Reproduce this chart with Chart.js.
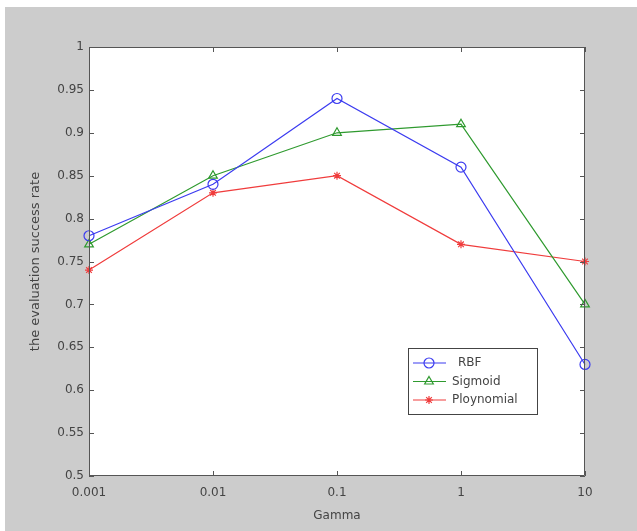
<!DOCTYPE html>
<html lang="en">
<head>
  <meta charset="UTF-8" />
  <title>Evaluation success rate vs Gamma</title>
  <script src="https://cdn.jsdelivr.net/npm/chart.js"></script>
  <style>
    html, body { margin: 0; padding: 0; background: #ffffff; }
    #wrap { position: relative; width: 637px; height: 531px; }
  </style>
</head>
<body>
  <div id="wrap"><canvas id="chart" width="637" height="531"></canvas></div>

  <script>
    // data
    const gammaLabels = ['0.001', '0.01', '0.1', '1', '10'];
    const rbfValues = [0.78, 0.84, 0.94, 0.86, 0.63];
    const sigmoidValues = [0.77, 0.85, 0.90, 0.91, 0.70];
    const polyValues = [0.74, 0.83, 0.85, 0.77, 0.75];
    const seriesNames = ['RBF', 'Sigmoid', 'Ploynomial'];

    const colBlue = '#3c3cf0';
    const colGreen = '#2f9a2f';
    const colRed = '#f03c3c';
    const txtColor = '#444444';
    const fam = '"DejaVu Sans", Verdana, sans-serif';

    // grey figure background, white axes, box and inward ticks
    const matlabFrame = {
      id: 'matlabFrame',
      beforeDraw(chart) {
        const c = chart.ctx, a = chart.chartArea;
        c.save();
        c.fillStyle = '#ffffff';
        c.fillRect(0, 0, chart.width, chart.height);
        c.fillStyle = '#cccccc';
        c.fillRect(5, 7, chart.width - 5, chart.height - 7);
        c.fillStyle = '#ffffff';
        c.fillRect(a.left, a.top, a.right - a.left, a.bottom - a.top);
        c.restore();
      },
      afterDatasetsDraw(chart) {
        const c = chart.ctx, a = chart.chartArea;
        const xs = chart.scales.x, ys = chart.scales.y;
        c.save();
        c.strokeStyle = '#555555';
        c.lineWidth = 1;
        c.beginPath();
        c.rect(a.left + 0.5, a.top + 0.5, a.right - a.left - 1, a.bottom - a.top - 1);
        c.stroke();
        c.beginPath();
        for (let i = 0; i < gammaLabels.length; i++) {
          const px = Math.round(xs.getPixelForValue(i)) + 0.5;
          c.moveTo(px, a.bottom); c.lineTo(px, a.bottom - 5);
          c.moveTo(px, a.top); c.lineTo(px, a.top + 5);
        }
        ys.ticks.forEach(t => {
          const py = Math.round(ys.getPixelForValue(t.value)) + 0.5;
          c.moveTo(a.left, py); c.lineTo(a.left + 5, py);
          c.moveTo(a.right, py); c.lineTo(a.right - 5, py);
        });
        c.stroke();
        c.restore();
      }
    };

    // legend box inside the axes, like the original
    const boxLegend = {
      id: 'boxLegend',
      afterDraw(chart) {
        const c = chart.ctx;
        const x0 = 408, y0 = 348, w = 129, h = 66;
        c.save();
        c.fillStyle = '#ffffff';
        c.fillRect(x0, y0, w, h);
        c.strokeStyle = '#444444';
        c.lineWidth = 1;
        c.strokeRect(x0 + 0.5, y0 + 0.5, w, h);
        chart.data.datasets.forEach((ds, i) => {
          const yy = y0 + 15 + i * 18.5;
          c.strokeStyle = ds.borderColor;
          c.lineWidth = 1.2;
          c.beginPath();
          c.moveTo(x0 + 5, yy); c.lineTo(x0 + 38, yy);
          c.stroke();
          c.fillStyle = 'rgba(0,0,0,0)';
          Chart.helpers.drawPoint(c, {
            pointStyle: ds.pointStyle,
            radius: ds.pointRadius,
            borderWidth: 1.2
          }, x0 + 21, yy);
          c.fillStyle = txtColor;
          c.font = '12px ' + fam;
          c.textBaseline = 'middle';
          c.fillText(seriesNames[i], x0 + (i === 0 ? 50 : 44), yy);
        });
        c.restore();
      }
    };

    function makeSet(name, values, color, style, r) {
      return {
        label: name,
        data: values,
        borderColor: color,
        backgroundColor: 'rgba(0,0,0,0)',
        borderWidth: 1.2,
        pointStyle: style,
        pointRadius: r,
        pointBorderWidth: 1.2,
        pointBorderColor: color,
        pointBackgroundColor: 'rgba(0,0,0,0)',
        tension: 0,
        fill: false
      };
    }

    new Chart(document.getElementById('chart').getContext('2d'), {
      type: 'line',
      data: {
        labels: gammaLabels,
        datasets: [
          makeSet(seriesNames[0], rbfValues, colBlue, 'circle', 5),
          makeSet(seriesNames[1], sigmoidValues, colGreen, 'triangle', 5),
          makeSet(seriesNames[2], polyValues, colRed, 'star', 4)
        ]
      },
      options: {
        responsive: false,
        animation: false,
        layout: { padding: { left: 28, top: 47, right: 52, bottom: 0 } },
        plugins: { legend: { display: false }, tooltip: { enabled: false } },
        scales: {
          x: {
            type: 'category',
            offset: false,
            grid: { display: false, drawTicks: false },
            border: { display: false },
            ticks: {
              color: txtColor,
              font: { family: fam, size: 12 },
              padding: 10,
              maxRotation: 0,
              autoSkip: false
            },
            title: {
              display: true,
              text: 'Gamma',
              color: txtColor,
              font: { family: fam, size: 12 },
              padding: { top: 0, bottom: 8 }
            },
            afterFit(scale) { scale.height = 55; }
          },
          y: {
            min: 0.5,
            max: 1,
            grid: { display: false, drawTicks: false },
            border: { display: false },
            ticks: {
              stepSize: 0.05,
              color: txtColor,
              font: { family: fam, size: 12 },
              padding: 5,
              callback: v => String(Number(v.toFixed(2)))
            },
            title: {
              display: true,
              text: 'the evaluation success rate',
              color: txtColor,
              font: { family: fam, size: 13 },
              padding: { top: 0, bottom: 0 }
            },
            afterFit(scale) { scale.width = 61; }
          }
        }
      },
      plugins: [matlabFrame, boxLegend]
    });
  </script>
</body>
</html>
